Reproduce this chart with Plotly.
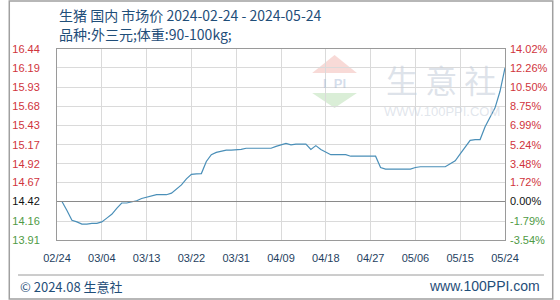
import plotly.graph_objects as go
import pandas as pd

start_date = "2024-02-24"
end_date = "2024-05-24"
base_price = 14.42

prices = [
    14.42, 14.42, 14.30, 14.17, 14.15, 14.12, 14.12, 14.13, 14.13, 14.15,
    14.20, 14.25, 14.33, 14.40, 14.40, 14.41, 14.43, 14.46, 14.48, 14.50,
    14.51, 14.51, 14.51, 14.53, 14.58, 14.64, 14.72, 14.78, 14.785, 14.79,
    14.95, 15.04, 15.07, 15.08, 15.10, 15.10, 15.10, 15.11, 15.125, 15.125,
    15.125, 15.125, 15.125, 15.125, 15.15, 15.17, 15.19, 15.17, 15.18, 15.18,
    15.18, 15.11, 15.16, 15.11, 15.07, 15.04, 15.04, 15.04, 15.04, 15.02,
    15.02, 15.02, 15.02, 15.02, 15.02, 14.87, 14.85, 14.85, 14.85, 14.85,
    14.85, 14.85, 14.87, 14.88, 14.88, 14.88, 14.88, 14.88, 14.88, 14.92,
    14.96, 15.05, 15.14, 15.23, 15.24, 15.24, 15.41, 15.53, 15.66, 15.88,
    16.19,
]

left_ticks = [13.91, 14.16, 14.42, 14.67, 14.92, 15.17, 15.43, 15.68, 15.93, 16.19, 16.44]
right_labels = ["-3.54%", "-1.79%", "0.00%", "1.72%", "3.48%", "5.24%", "6.99%",
                "8.75%", "10.50%", "12.26%", "14.02%"]
x_tick_labels = ["02/24", "03/04", "03/13", "03/22", "03/31", "04/09",
                 "04/18", "04/27", "05/06", "05/15", "05/24"]

title_line1 = "生猪 国内 市场价 2024-02-24 - 2024-05-24"
title_line2 = "品种:外三元;体重:90-100kg;"

dates = pd.date_range(start_date, end_date, freq="D")
tick_dates = list(dates[::9])

RED = "#d0343c"
GREEN = "#4f9a45"
BLACK = "#111111"

PL, PR, PT, PB = 50, 510, 49, 240
PW, PH = PR - PL, PB - PT


def fx(px):
    return (px - PL) / PW


def fy(py):
    return (PB - py) / PH


def colored(txt, v):
    if abs(v - base_price) < 1e-9:
        c = BLACK
    elif v > base_price:
        c = RED
    else:
        c = GREEN
    return f"<span style='color:{c}'>{txt}</span>"


def px_path(pts):
    segs = []
    for i, (px, py) in enumerate(pts):
        segs.append(("M" if i == 0 else "L") + f" {fx(px)} {fy(py)}")
    return " ".join(segs) + " Z"


left_text = [colored(f"{v:.2f}", v) for v in left_ticks]
right_text = [colored(t, v) for t, v in zip(right_labels, left_ticks)]

yr = [left_ticks[0], left_ticks[-1]]
tick_font = dict(family="Liberation Sans, Arial, sans-serif", size=11)
grid_style = dict(showgrid=True, gridcolor="#dadada", gridwidth=1)

fig = go.Figure()
fig.add_trace(go.Scatter(
    x=dates, y=prices, mode="lines",
    line=dict(color="#4a8fb8", width=1.2),
    hoverinfo="x+y", showlegend=False,
))
fig.add_trace(go.Scatter(
    x=dates, y=prices, mode="lines", yaxis="y2",
    line=dict(color="rgba(0,0,0,0)", width=0),
    hoverinfo="skip", showlegend=False,
))

fig.update_layout(
    width=560, height=300,
    margin=dict(l=PL, r=560 - PR, t=PT, b=300 - PB),
    paper_bgcolor="white", plot_bgcolor="white",
    font=dict(family="Liberation Sans, Arial, sans-serif", size=11, color="#1f3f5f"),
    xaxis=dict(
        range=[dates[0], dates[-1]],
        tickvals=tick_dates, ticktext=x_tick_labels,
        showline=True, linecolor="#9a9a9a", linewidth=1, mirror=True,
        ticks="", ticklabelstandoff=8,
        tickfont=dict(tick_font, color="#1f3f5f"),
        zeroline=False, fixedrange=True, **grid_style,
    ),
    yaxis=dict(
        range=yr, tickvals=left_ticks, ticktext=left_text,
        showline=True, linecolor="#9a9a9a", linewidth=1, mirror=True,
        ticks="", ticklabelstandoff=14, tickfont=tick_font,
        zeroline=False, fixedrange=True, **grid_style,
    ),
    yaxis2=dict(
        range=yr, tickvals=left_ticks, ticktext=right_text,
        overlaying="y", side="right", showgrid=False,
        ticks="", ticklabelstandoff=4, tickfont=tick_font,
        zeroline=False, fixedrange=True,
    ),
    annotations=[
        dict(text=title_line1, xref="paper", yref="paper", x=0, y=fy(15),
             xanchor="left", yanchor="middle", showarrow=False,
             font=dict(family="Noto Sans CJK SC", size=14, color="#1f4e79")),
        dict(text=title_line2, xref="paper", yref="paper", x=0, y=fy(34),
             xanchor="left", yanchor="middle", showarrow=False,
             font=dict(family="Noto Sans CJK SC", size=14, color="#1f4e79")),
        dict(text="© 2024.08 生意社", xref="paper", yref="paper", x=fx(10),
             y=fy(286), xanchor="left", yanchor="middle", showarrow=False,
             font=dict(family="Noto Sans CJK SC", size=13, color="#1f4e79")),
        dict(text="www.100PPI.com", xref="paper", yref="paper", x=fx(548),
             y=fy(286), xanchor="right", yanchor="middle", showarrow=False,
             font=dict(family="Liberation Sans, Arial", size=14, color="#1f4e79")),
        dict(text="生 意 社", xref="paper", yref="paper", x=fx(444),
             y=fy(79), xanchor="center", yanchor="middle", showarrow=False,
             font=dict(family="Noto Sans CJK SC", size=32, color="rgba(200,208,220,0.6)")),
        dict(text="WWW.100PPI.COM", xref="paper", yref="paper", x=fx(445),
             y=fy(111), xanchor="center", yanchor="middle", showarrow=False,
             font=dict(family="Liberation Sans, Arial", size=13, color="rgba(200,208,220,0.55)")),
        dict(text="<b>I  PI</b>", xref="paper", yref="paper", x=fx(335),
             y=fy(83), xanchor="center", yanchor="middle", showarrow=False,
             font=dict(family="Liberation Sans, Arial", size=13, color="rgba(160,180,210,0.45)")),
    ],
)

fig.add_shape(type="path", xref="paper", yref="paper",
              path=px_path([(312, 73), (335, 55), (358, 73)]), line=dict(width=0),
              fillcolor="rgba(236,150,140,0.35)", layer="below")
fig.add_shape(type="path", xref="paper", yref="paper",
              path=px_path([(312, 93), (358, 93), (335, 108)]), line=dict(width=0),
              fillcolor="rgba(150,205,140,0.35)", layer="below")
fig.add_shape(type="line", xref="paper", yref="y", x0=0, x1=1, y0=base_price, y1=base_price,
              line=dict(color="#8a8a8a", width=1.2))
fig.add_shape(type="rect", xref="paper", yref="paper", x0=fx(1), x1=fx(559),
              y0=fy(299), y1=fy(1), line=dict(color="#a0a0a0", width=1.5),
              fillcolor="rgba(0,0,0,0)")
fig.add_shape(type="line", xref="paper", yref="paper", x0=fx(10), x1=fx(550),
              y0=fy(275), y1=fy(275), line=dict(color="#9a9a9a", width=1))

fig.write_html("out.html")
